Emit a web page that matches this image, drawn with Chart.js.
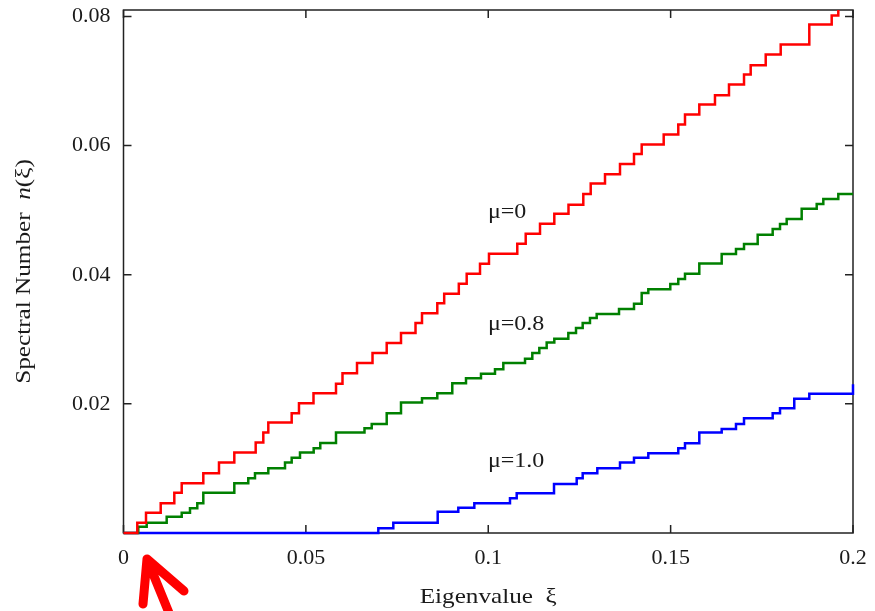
<!DOCTYPE html>
<html><head><meta charset="utf-8">
<script src="https://cdn.jsdelivr.net/npm/chart.js@4/dist/chart.umd.min.js"></script>
<style>html,body{margin:0;padding:0;background:#fff;overflow:hidden}canvas{display:block}</style>
</head><body>
<canvas id="c" width="875" height="611"></canvas>
<script>
// ---- tick labels ----
const xTickValues = [0, 0.05, 0.1, 0.15, 0.2];
const xTickLabels = ['0', '0.05', '0.1', '0.15', '0.2'];
const yTickValues = [0.02, 0.04, 0.06, 0.08];
const yTickLabels = ['0.02', '0.04', '0.06', '0.08'];
const seriesNames = ['μ=0', 'μ=0.8', 'μ=1.0'];

// ---- μ = 0 : eigenvalue where a step occurs, level after the step ----
const xi_mu0 = [0.00378, 0.00617, 0.0102, 0.01393, 0.01596, 0.02188, 0.02618, 0.03038, 0.03624, 0.03833,
  0.0397, 0.04611, 0.04811, 0.05209, 0.05826, 0.06004, 0.06402, 0.06827, 0.07216, 0.07608,
  0.08006, 0.08184, 0.08603, 0.08792, 0.09193, 0.09409, 0.09774, 0.1002, 0.10796, 0.11027,
  0.11419, 0.11811, 0.122, 0.12606, 0.12809, 0.13201, 0.13612, 0.13996, 0.14207, 0.1481,
  0.1521, 0.15394, 0.15786, 0.16216, 0.1660, 0.17012, 0.17195, 0.17607, 0.18018, 0.18802,
  0.19416, 0.19597];
const n_mu0 = [0.0016, 0.00315, 0.0046, 0.00625, 0.0077, 0.00926, 0.0109, 0.01245, 0.014, 0.01555,
  0.0171, 0.01856, 0.02011, 0.02163, 0.0231, 0.02473, 0.02631, 0.02786, 0.02941, 0.03096,
  0.03251, 0.03403, 0.03558, 0.03705, 0.0386, 0.04016, 0.0417, 0.04326, 0.04481, 0.04636,
  0.04791, 0.04946, 0.05085, 0.05251, 0.05411, 0.05558, 0.05716, 0.05871, 0.06016, 0.06171,
  0.06326, 0.06481, 0.06636, 0.0678, 0.06946, 0.07101, 0.07245, 0.07411, 0.07566, 0.07876,
  0.08016, 0.0825];

// ---- μ = 0.8 ----
const xi_mu08 = [0.00406, 0.00636, 0.01184, 0.01596, 0.01823, 0.02023, 0.02188, 0.03038, 0.03421, 0.03605,
  0.0397, 0.04428, 0.04611, 0.04839, 0.05214, 0.05395, 0.05826, 0.06607, 0.06805, 0.07216,
  0.07608, 0.08184, 0.08603, 0.09014, 0.0939, 0.09801, 0.10185, 0.10413, 0.11008, 0.11208,
  0.114, 0.11602, 0.11811, 0.12195, 0.12406, 0.12589, 0.12789, 0.12973, 0.13585, 0.13996,
  0.14207, 0.14388, 0.14991, 0.1521, 0.15394, 0.15786, 0.164, 0.16792, 0.17012, 0.17387,
  0.17798, 0.17999, 0.18182, 0.18593, 0.19005, 0.19186, 0.19597];
const n_mu08 = [0.00098, 0.0016, 0.00253, 0.00315, 0.00383, 0.0046, 0.00625, 0.0077, 0.00848, 0.00926,
  0.01003, 0.0109, 0.01167, 0.01245, 0.01313, 0.01395, 0.01555, 0.01623, 0.0169, 0.01856,
  0.0202, 0.02088, 0.02166, 0.02321, 0.02398, 0.02465, 0.02538, 0.02631, 0.02698, 0.02786,
  0.02864, 0.0295, 0.03008, 0.03096, 0.03174, 0.03251, 0.03329, 0.03391, 0.03468, 0.0355,
  0.03716, 0.03775, 0.03857, 0.03933, 0.04016, 0.04175, 0.04321, 0.04398, 0.04476, 0.0462,
  0.04709, 0.04786, 0.04864, 0.05023, 0.05096, 0.05174, 0.05251];

// ---- μ = 1.0 ----
const xi_mu10 = [0.06986, 0.07397, 0.08614, 0.09179, 0.09618, 0.10596, 0.1078, 0.11803, 0.12425, 0.12589,
  0.1299, 0.13612, 0.13996, 0.14388, 0.1521, 0.15394, 0.15786, 0.164, 0.16792, 0.17012,
  0.17798, 0.17999, 0.1839, 0.18802, 0.2];
const n_mu10 = [0.00073, 0.0016, 0.0033, 0.00392, 0.0046, 0.00538, 0.00616, 0.0076, 0.00848, 0.00926,
  0.01003, 0.0109, 0.01167, 0.01236, 0.01313, 0.01391, 0.01555, 0.01612, 0.0169, 0.01778,
  0.01856, 0.01933, 0.02078, 0.02155, 0.02305];

const X_MIN = 0, X_MAX = 0.2, Y_MIN = 0, Y_MAX = 0.081;

function stepPoints(xs, ys) {
  const pts = [{x: X_MIN, y: 0}];
  xs.forEach((x, i) => pts.push({x: x, y: ys[i]}));
  const last = pts[pts.length - 1];
  if (last.x < X_MAX) pts.push({x: X_MAX, y: last.y});
  return pts;
}

const SERIF = '"Liberation Serif", "Times New Roman", serif';
const TEXT = '#1a1a1a';

function drawRich(ctx, parts, x, y, opts) {
  ctx.save();
  ctx.translate(x, y);
  if (opts.rotate) ctx.rotate(opts.rotate);
  ctx.scale(opts.stretch || 1, 1);
  ctx.fillStyle = TEXT;
  ctx.textBaseline = 'alphabetic';
  ctx.textAlign = 'left';
  let total = 0;
  const widths = parts.map(p => { ctx.font = (p.italic ? 'italic ' : '') + opts.size + 'px ' + SERIF; const w = ctx.measureText(p.t).width; total += w; return w; });
  let cx = opts.align === 'center' ? -total / 2 : 0;
  parts.forEach((p, i) => { ctx.font = (p.italic ? 'italic ' : '') + opts.size + 'px ' + SERIF; ctx.fillText(p.t, cx, 0); cx += widths[i]; });
  ctx.restore();
}

const decor = {
  id: 'decor',
  beforeDatasetsDraw(chart) {
    const {ctx, chartArea: a, scales: {x, y}} = chart;
    ctx.save();
    ctx.strokeStyle = '#222';
    ctx.lineWidth = 1.5;
    ctx.strokeRect(a.left, a.top, a.right - a.left, a.bottom - a.top);
    ctx.beginPath();
    xTickValues.forEach(v => {
      const px = x.getPixelForValue(v);
      ctx.moveTo(px, a.bottom); ctx.lineTo(px, a.bottom - 8);
      ctx.moveTo(px, a.top); ctx.lineTo(px, a.top + 8);
    });
    yTickValues.forEach(v => {
      const py = y.getPixelForValue(v);
      ctx.moveTo(a.left, py); ctx.lineTo(a.left + 8, py);
      ctx.moveTo(a.right, py); ctx.lineTo(a.right - 8, py);
    });
    ctx.stroke();
    ctx.restore();
  },
  afterDraw(chart, args, o) {
    const {ctx, chartArea: a, scales: {x, y}} = chart;
    // series annotations
    o.annotations.forEach(an => {
      drawRich(ctx, [{t: an.text}], x.getPixelForValue(an.x), y.getPixelForValue(an.y), {size: 20, stretch: 1.2, align: 'left'});
    });
    // axis titles
    drawRich(ctx, [{t: 'Eigenvalue  ξ'}], (a.left + a.right) / 2, 603, {size: 21, stretch: 1.2, align: 'center'});
    drawRich(ctx, [{t: 'Spectral Number  '}, {t: 'n', italic: true}, {t: '(ξ)'}], 30, (a.top + a.bottom) / 2,
      {size: 21, stretch: 1.2, align: 'center', rotate: -Math.PI / 2});
    // red arrow
    ctx.save();
    ctx.strokeStyle = '#ff0000';
    ctx.lineWidth = 9;
    ctx.lineCap = 'round';
    ctx.lineJoin = 'round';
    ctx.beginPath();
    ctx.moveTo(143, 604); ctx.lineTo(147, 559); ctx.lineTo(184, 591);
    ctx.moveTo(147, 559); ctx.lineTo(176, 630);
    ctx.stroke();
    ctx.restore();
  }
};

function fixAxis(size, prop) {
  return function (scale) {
    scale[prop] = size;
    scale.paddingTop = 0; scale.paddingBottom = 0; scale.paddingLeft = 0; scale.paddingRight = 0;
  };
}

new Chart(document.getElementById('c'), {
  type: 'line',
  data: {
    datasets: [
      {label: seriesNames[0], data: stepPoints(xi_mu0, n_mu0), borderColor: '#ff0000'},
      {label: seriesNames[1], data: stepPoints(xi_mu08, n_mu08), borderColor: '#008000'},
      {label: seriesNames[2], data: stepPoints(xi_mu10, n_mu10), borderColor: '#0000ff'}
    ].map(d => Object.assign(d, {stepped: 'before', borderWidth: 2.5, pointRadius: 0, fill: false, tension: 0,
      clip: {left: 1, top: 0, right: 2, bottom: 2}}))
  },
  options: {
    responsive: false,
    animation: false,
    events: [],
    layout: {padding: {top: 10, right: 22, left: 0, bottom: 0}},
    plugins: {
      legend: {display: false},
      tooltip: {enabled: false},
      decor: {
        annotations: [
          {text: seriesNames[0], x: 0.0999, y: 0.0488},
          {text: seriesNames[1], x: 0.0999, y: 0.03147},
          {text: seriesNames[2], x: 0.0999, y: 0.01023}
        ]
      }
    },
    scales: {
      x: {
        type: 'linear', min: X_MIN, max: X_MAX,
        grid: {display: false, drawTicks: false}, border: {display: false},
        afterBuildTicks: ax => { ax.ticks = xTickValues.map(v => ({value: v})); },
        afterFit: fixAxis(78, 'height'),
        ticks: {
          padding: 12, color: TEXT, maxRotation: 0, autoSkip: false,
          font: {family: SERIF, size: 22},
          callback: v => { const i = xTickValues.indexOf(v); return i >= 0 ? xTickLabels[i] : ''; }
        }
      },
      y: {
        type: 'linear', min: Y_MIN, max: Y_MAX,
        grid: {display: false, drawTicks: false}, border: {display: false},
        afterBuildTicks: ax => { ax.ticks = yTickValues.map(v => ({value: v})); },
        afterFit: fixAxis(123.5, 'width'),
        ticks: {
          padding: 13, color: TEXT, autoSkip: false,
          font: {family: SERIF, size: 22},
          callback: v => { const i = yTickValues.indexOf(v); return i >= 0 ? yTickLabels[i] : ''; }
        }
      }
    }
  },
  plugins: [decor]
});
</script>
</body></html>
